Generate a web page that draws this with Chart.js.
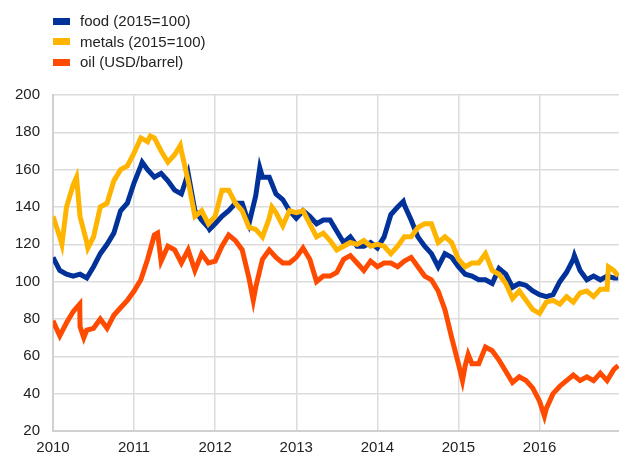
<!DOCTYPE html>
<html>
<head>
<meta charset="utf-8">
<script src="https://cdn.jsdelivr.net/npm/chart.js@4.4.1/dist/chart.umd.min.js"></script>
<style>
  html, body { margin: 0; padding: 0; background: #fff; }
  #wrap { position: relative; width: 619px; height: 454px; }
  #legend { position: absolute; left: 53px; top: 11px; font: 15px "Liberation Sans", Arial, sans-serif; color: #222; }
  #legend div { height: 20.7px; line-height: 20.7px; white-space: nowrap; }
  #legend span { display: inline-block; width: 17px; height: 7px; margin-right: 10px; vertical-align: middle; position: relative; top: -1px; }
</style>
</head>
<body>
<div id="wrap">
  <canvas id="chart" width="619" height="454"></canvas>
  <div id="legend"></div>
</div>
<script>
// monthly observations, Jan 2010 - Dec 2016 (decimal years)
const months = [];
for (let m = 0; m < 84; m++) months.push(2010 + m / 12);
months.push(2016.97);

const seriesLabels = ['food (2015=100)', 'metals (2015=100)', 'oil (USD/barrel)'];
const seriesColors = ['#003299', '#FFB400', '#FF4B00'];

const food = [
  113, 106, 104, 103, 104, 102, 108, 115, 120, 126, 138, 142,
  153, 162, 160, 156, 158, 154, 149, 147, 158, 138, 133, 129,
  131, 135, 138, 142, 142, 131, 146, 156, 156, 147, 144, 138,
  134, 138, 135, 131, 133, 133, 127, 121, 124, 119, 119, 121,
  118, 124, 136, 140, 141, 133, 124, 119, 115, 108, 115, 113,
  108, 104, 103, 101, 101, 99, 107, 104, 97, 99, 98, 95,
  93, 92, 93, 100, 105, 112, 106, 101, 103, 101, 103, 102,
  102
];
const metals = [
  135, 124, 140, 152, 135, 121, 124, 140, 142, 154, 160, 162,
  169, 177, 175, 177, 170, 164, 168, 170, 154, 135, 138, 131,
  135, 149, 149, 142, 138, 129, 128, 124, 134, 137, 130, 138,
  137, 138, 131, 124, 126, 122, 117, 119, 121, 120, 122, 119,
  120, 119, 115, 119, 124, 124, 129, 131, 131, 121, 124, 121,
  112, 108, 110, 110, 115, 106, 104, 99, 91, 95, 90, 85,
  83, 89, 90, 88, 92, 89, 94, 95, 92, 96, 96, 106,
  103
];
const oil = [
  79, 71, 78, 84, 76, 74, 75, 80, 75, 82, 86, 90,
  95, 101, 112, 125, 111, 119, 117, 110, 117, 106, 115, 110,
  111, 119, 125, 122, 117, 102, 97, 112, 117, 113, 110, 110,
  113, 118, 112, 100, 103, 103, 105, 112, 114, 110, 106, 111,
  108, 110, 110, 108, 111, 113, 108, 103, 101, 95, 85, 70,
  56, 55, 56, 56, 65, 63, 58, 52, 46, 49, 47, 43,
  36, 32, 40, 44, 47, 50, 47, 49, 47, 51, 47, 53,
  55
];

// extra readings at turning points between the monthly observations
const foodExtraX = [2011.10, 2011.93, 2012.55, 2014.32, 2016.43];
const foodExtra  = [164, 128, 161, 143, 114];
const metalsExtraX = [2010.11, 2010.29, 2010.43, 2011.20, 2011.57, 2012.70, 2016.85];
const metalsExtra  = [120, 156, 118, 178, 173, 140, 108];
const oilExtraX = [2010.33, 2010.38, 2011.29, 2012.47, 2015.05, 2015.12, 2016.06];
const oilExtra  = [88, 70, 126, 90, 47, 61, 28];

const yTicks = [20, 40, 60, 80, 100, 120, 140, 160, 180, 200];
const yearTicks = [2010, 2011, 2012, 2013, 2014, 2015, 2016];

function toPoints(values, extraX, extraY) {
    const pts = values.map((v, i) => ({ x: months[i], y: v }));
    extraX.forEach((x, i) => pts.push({ x: x, y: extraY[i] }));
    return pts.sort((a, b) => a.x - b.x);
}

const seriesData = [
    toPoints(food, foodExtraX, foodExtra),
    toPoints(metals, metalsExtraX, metalsExtra),
    toPoints(oil, oilExtraX, oilExtra)
];

const datasets = seriesData.map((pts, i) => ({
    label: seriesLabels[i],
    data: pts,
    borderColor: seriesColors[i],
    backgroundColor: seriesColors[i],
    borderWidth: 5,
    pointRadius: 0,
    tension: 0,
    fill: false
}));

// draw oil first so that food and metals sit on top
datasets.reverse();

const legend = document.getElementById('legend');
seriesLabels.forEach((lab, i) => {
    const row = document.createElement('div');
    row.innerHTML = '<span style="background:' + seriesColors[i] + '"></span>' + lab;
    legend.appendChild(row);
});

const ctx = document.getElementById('chart').getContext('2d');
new Chart(ctx, {
    type: 'line',
    data: { datasets: datasets },
    options: {
        responsive: false,
        animation: false,
        layout: { padding: { top: 95, right: 0, left: 0, bottom: 0 } },
        plugins: { legend: { display: false }, tooltip: { enabled: false } },
        scales: {
            x: {
                type: 'linear',
                min: 2010,
                max: 2016.98,
                afterBuildTicks: axis => { axis.ticks = yearTicks.map(v => ({ value: v })); },
                afterFit: axis => { axis.height = 23; },
                ticks: {
                    color: '#222',
                    font: { family: 'Liberation Sans', size: 15 },
                    padding: 8,
                    maxRotation: 0,
                    callback: v => String(v)
                },
                grid: { color: '#dcdcdc', lineWidth: 1.5, drawTicks: false },
                border: { color: '#d0d0d0', width: 2 }
            },
            y: {
                min: 20,
                max: 200,
                afterBuildTicks: axis => { axis.ticks = yTicks.map(v => ({ value: v })); },
                afterFit: axis => { axis.width = 53; },
                ticks: {
                    color: '#222',
                    font: { family: 'Liberation Sans', size: 15 },
                    padding: 13
                },
                grid: { color: '#dcdcdc', lineWidth: 1.5, drawTicks: false },
                border: { color: '#d0d0d0', width: 2 }
            }
        }
    }
});
</script>
</body>
</html>
